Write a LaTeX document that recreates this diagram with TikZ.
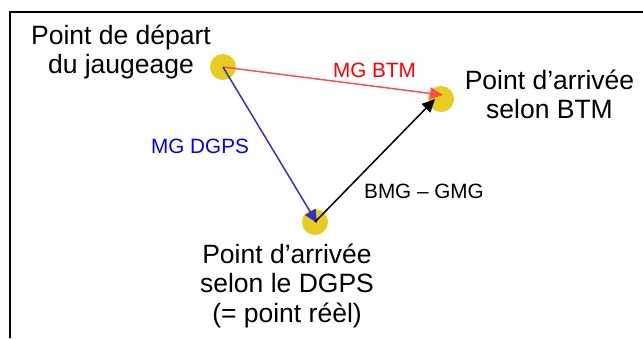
\documentclass[tikz,border=0pt]{standalone}
\usepackage{fontspec}
\setmainfont{Liberation Sans}
\usetikzlibrary{arrows.meta}
\definecolor{dotyellow}{RGB}{232,204,32}
\definecolor{arrred}{RGB}{255,80,80}
\definecolor{arrblue}{RGB}{50,50,200}
\begin{document}
\begin{tikzpicture}[x=1pt,y=-1pt,
  bigtext/.style={font=\fontsize{26.5}{29.5}\selectfont, align=center, inner sep=0pt, anchor=base},
  smalltext/.style={font=\fontsize{20.7}{24}\selectfont, inner sep=0pt, anchor=base},
  dot/.style={circle, fill=dotyellow, minimum size=26pt, inner sep=0pt},
  arr/.style={line width=1.5pt, -{Triangle[length=13pt,width=12pt]}}]
\useasboundingbox (0,0) rectangle (643,338);
\draw[line width=1.5pt] (643,12) -- (10,12) -- (10,338);
\node[dot] (start) at (223,67) {};
\node[dot] (btm) at (441,99) {};
\node[dot] (dgps) at (315,222) {};
\coordinate (s0) at (223,67);
\coordinate (btmtipR) at (443,95);
\coordinate (btmtipK) at (435,99);
\coordinate (dgpstip) at (317,223);
\coordinate (d0) at (315,222);
\draw[arr, arrred] (s0) -- (btmtipR);
\draw[arr, arrblue] (s0) -- (dgpstip);
\draw[arr, black] (d0) -- (btmtipK);
\node[bigtext] (tstart) at (121,73.5) {Point de départ\\du jaugeage};
\node[bigtext] (tbtm) at (549.5,118.5) {Point d’arrivée\\selon BTM};
\node[bigtext] (tdgps) at (287,322) {Point d’arrivée\\selon le DGPS\\(= point réèl)};
\node[smalltext, text=red] (lbtm) at (374.5,77) {MG BTM};
\node[smalltext, text=blue] (ldgps) at (200,153) {MG DGPS};
\node[smalltext, text=black] (ldiff) at (424,198) {BMG – GMG};
\end{tikzpicture}
\end{document}
